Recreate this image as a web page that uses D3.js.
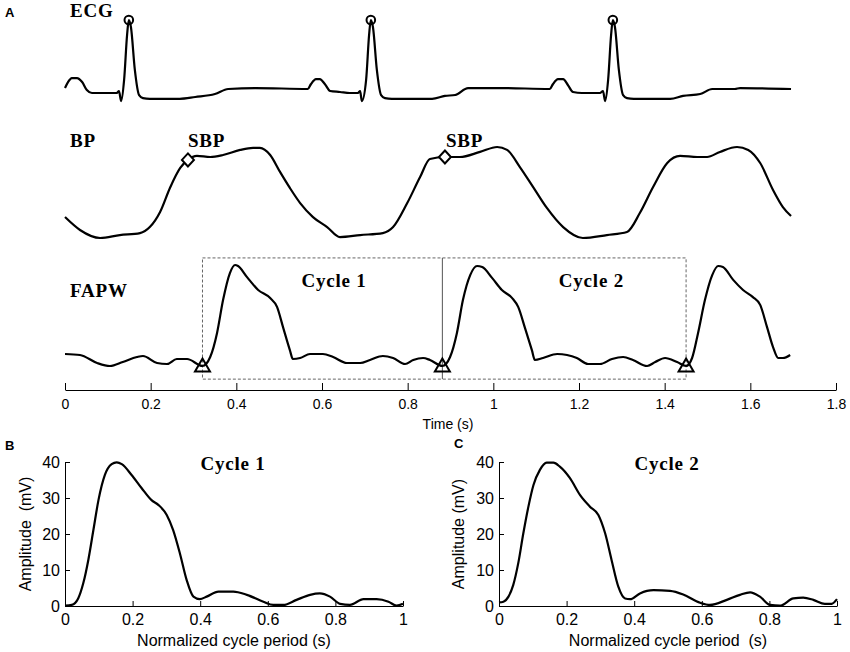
<!DOCTYPE html>
<html><head><meta charset="utf-8">
<script src="https://cdn.jsdelivr.net/npm/d3@7"></script>
<style>
html,body{margin:0;padding:0;background:#fff;}
svg{display:block;}
.serif{font-family:"Liberation Serif","Times New Roman",serif;font-weight:bold;}
.sans{font-family:"Liberation Sans",Arial,sans-serif;}
</style></head>
<body>
<svg id="chart" width="850" height="652"></svg>
<script>
// ---------------- DATA ----------------
// Top panel time ticks (s)
const timeTicks = [0,0.2,0.4,0.6,0.8,1,1.2,1.4,1.6,1.8];
// ECG (mV, relative to baseline)
const ecgT = [0,0.007,0.016,0.028,0.040,0.051,0.063,0.121,0.126,0.131,0.138,0.145,0.149,0.154,0.163,0.173,0.182,0.198,0.268,0.304,0.350,0.381,0.444,0.567,0.574,0.586,0.595,0.607,0.619,0.642,0.665,0.684,0.689,0.693,0.703,0.710,0.714,0.719,0.728,0.738,0.747,0.763,0.857,0.887,0.911,0.941,1.016,1.132,1.139,1.151,1.163,1.174,1.186,1.207,1.249,1.256,1.261,1.268,1.275,1.279,1.284,1.293,1.303,1.312,1.328,1.413,1.443,1.483,1.511,1.564,1.576,1.695];
const ecgV = [0.068,0.15,0.205,0.205,0.15,0.04,0,0,0.027,-0.11,0.18,0.8,1.0,0.9,0.32,-0.03,-0.07,-0.08,-0.08,-0.055,-0.014,0.055,0.068,0.055,0.12,0.19,0.19,0.12,0.027,0.014,0,0,0.027,-0.11,0.18,0.8,1.0,0.9,0.32,-0.03,-0.07,-0.08,-0.08,-0.04,-0.027,0.068,0.068,0.055,0.12,0.19,0.19,0.11,0.014,0,0,0.027,-0.11,0.18,0.8,1.0,0.9,0.32,-0.03,-0.07,-0.08,-0.08,-0.04,-0.014,0.055,0.055,0.068,0.055];
const rPeakT = [0.149,0.714,1.279];
const rPeakV = [1.0,1.0,1.0];
// Blood pressure (mmHg)
const bpT = [0,0.035,0.082,0.128,0.175,0.198,0.222,0.245,0.269,0.287,0.308,0.339,0.369,0.409,0.439,0.455,0.479,0.502,0.525,0.549,0.579,0.612,0.642,0.689,0.742,0.766,0.799,0.829,0.852,0.887,0.922,0.969,1.009,1.032,1.062,1.093,1.125,1.163,1.209,1.265,1.312,1.342,1.373,1.406,1.436,1.476,1.499,1.529,1.569,1.595,1.623,1.653,1.676,1.695];
const bpV = [81.5,74.4,70,71.6,72.7,76.0,84.3,97.5,108.5,112.9,115.1,114.5,115.6,118.4,119.5,119.5,115.6,106.3,97.5,89.2,81.5,76.0,70.5,71.6,72.7,76.0,89.2,103.5,113.4,114.5,114.5,117.3,120.0,118.4,109.0,98.0,86.5,76.0,70,71.6,73.3,83.7,98.0,111.2,115.1,114.5,114.5,117.3,120,118.4,111.2,96.4,87.0,82.1];
const sbpT = [0.287,0.887];
const sbpV = [112.9,114.5];
// FAPW (mV)
const fapwT = [0,0.035,0.075,0.105,0.135,0.168,0.182,0.215,0.238,0.261,0.285,0.321,0.339,0.355,0.369,0.385,0.397,0.404,0.425,0.451,0.479,0.495,0.509,0.525,0.532,0.549,0.572,0.602,0.626,0.658,0.689,0.712,0.742,0.766,0.794,0.813,0.836,0.852,0.881,0.899,0.915,0.929,0.946,0.962,0.974,0.997,1.020,1.044,1.058,1.074,1.090,1.097,1.116,1.149,1.172,1.195,1.221,1.249,1.277,1.303,1.326,1.359,1.378,1.401,1.429,1.450,1.464,1.478,1.494,1.511,1.525,1.536,1.560,1.583,1.606,1.623,1.639,1.653,1.665,1.676,1.693];
const fapwV = [4.75,4.36,1.19,0,1.58,3.56,3.96,1.19,0.79,2.77,2.77,0,3.56,13.1,26.1,36.8,40,39.6,35.2,30.1,26.9,23.4,15.4,6.3,2.77,3.17,4.75,4.75,3.56,1.19,1.19,2.38,3.96,3.17,0.79,2.38,3.17,2.38,0,3.56,13.1,26.1,36.0,39.6,39.2,34.9,30.1,26.9,23.4,15.0,6.3,2.38,3.17,4.75,4.36,3.17,0.79,0.79,2.77,3.56,2.38,0,1.58,3.17,1.58,0,3.17,13.1,26.1,36.0,39.6,39.2,34.1,30.1,27.3,24.2,15.4,7.5,3.17,3.17,4.36];
const footT = [0.321,0.881,1.450];
const footV = [0,0,0];
const cycleLabels = ["Cycle 1","Cycle 2"];
const cycleLabelT = [0.628,1.229];
const boxTopV = 42.8, boxBottomV = -5.2;
// Normalized cycles (panels B, C)
const c1N = [0,0.02,0.039,0.054,0.069,0.084,0.099,0.118,0.138,0.153,0.168,0.197,0.227,0.256,0.276,0.301,0.320,0.340,0.360,0.380,0.399,0.419,0.454,0.498,0.538,0.587,0.616,0.646,0.685,0.725,0.754,0.784,0.814,0.843,0.883,0.922,0.957,0.981,1.0];
const c1V = [0.1,0.3,2.1,6.3,12.8,21.1,29.4,36.4,39.4,39.9,39.4,36.4,32.7,29.4,28.1,25.3,21.1,14.6,7.2,2.6,1.9,2.6,4.0,4.0,3.1,1.2,0.3,0.3,1.7,3.1,3.5,2.6,0.6,0.3,1.9,1.9,1.2,0.1,0.6];
const c2N = [0,0.013,0.028,0.042,0.057,0.072,0.087,0.102,0.121,0.141,0.161,0.180,0.210,0.240,0.269,0.294,0.314,0.333,0.353,0.373,0.388,0.417,0.457,0.506,0.545,0.595,0.624,0.674,0.713,0.743,0.772,0.802,0.831,0.871,0.900,0.930,0.964,0.984,1.0];
const c2V = [1.0,1.2,2.6,5.8,11.9,20.2,27.6,33.6,37.8,39.8,39.8,38.7,35.5,30.8,27.6,25.3,20.2,12.8,5.4,2.1,1.9,3.5,4.4,4.2,3.2,0.9,0.3,1.7,3.1,3.8,2.6,0.3,0.1,2.1,2.3,1.7,0.6,0.6,1.9];
const normTicks = [0,0.2,0.4,0.6,0.8,1];
const ampTicks = [0,10,20,30,40];

// ---------------- DRAW ----------------
const svg = d3.select("#chart");
const zip = (a,b)=>a.map((v,i)=>[v,b[i]]);

// Panel A scales
const xT = d3.scaleLinear().domain([0,1.8]).range([65,836]);
const yEcg = d3.scaleLinear().domain([0,1]).range([93,20]);
const yBp = d3.scaleLinear().domain([70,120]).range([238,147]);
const yF = d3.scaleLinear().domain([0,40]).range([366,265]);

function trace(g, T, V, ys, curve){
  g.append("path").datum(zip(T,V))
   .attr("fill","none").attr("stroke","#000").attr("stroke-width",2.2)
   .attr("stroke-linejoin","round")
   .attr("d", d3.line().x(d=>xT(d[0])).y(d=>ys(d[1])).curve(curve||d3.curveMonotoneX));
}

const gA = svg.append("g");

// dashed cycle box
gA.append("rect")
  .attr("x", xT(footT[0])).attr("y", yF(boxTopV))
  .attr("width", xT(footT[2])-xT(footT[0])).attr("height", yF(boxBottomV)-yF(boxTopV))
  .attr("fill","none").attr("stroke","#666").attr("stroke-width",1).attr("stroke-dasharray","3,2");
gA.append("line")
  .attr("x1", xT(footT[1])).attr("x2", xT(footT[1]))
  .attr("y1", yF(boxTopV)).attr("y2", yF(boxBottomV))
  .attr("stroke","#555").attr("stroke-width",1);

trace(gA, ecgT, ecgV, yEcg);
trace(gA, bpT, bpV, yBp);
trace(gA, fapwT, fapwV, yF);

// R-peak circles
gA.selectAll("circle.r").data(zip(rPeakT,rPeakV)).enter().append("circle")
  .attr("cx",d=>xT(d[0])).attr("cy",d=>yEcg(d[1])).attr("r",4.3)
  .attr("fill","none").attr("stroke","#000").attr("stroke-width",2);
// SBP diamonds
gA.selectAll("path.sbp").data(zip(sbpT,sbpV)).enter().append("path")
  .attr("transform",d=>`translate(${xT(d[0])},${yBp(d[1])})`)
  .attr("d","M0,-6.5L6,0L0,6.5L-6,0Z")
  .attr("fill","#fff").attr("stroke","#000").attr("stroke-width",2);
// foot triangles
gA.selectAll("path.foot").data(zip(footT,footV)).enter().append("path")
  .attr("transform",d=>`translate(${xT(d[0])},${yF(d[1])})`)
  .attr("d","M0,-7.5L7.5,5.5L-7.5,5.5Z")
  .attr("fill","none").attr("stroke","#000").attr("stroke-width",2);

// labels
const serifTxt = (g,x,y,t)=>g.append("text").attr("class","serif").attr("x",x).attr("y",y)
  .attr("font-size",19).attr("letter-spacing",0.8).text(t);
serifTxt(gA,70,17,"ECG");
serifTxt(gA,70,147,"BP");
serifTxt(gA,188,147,"SBP");
serifTxt(gA,446,147,"SBP");
serifTxt(gA,70,297,"FAPW");
serifTxt(gA,xT(cycleLabelT[0]),287,cycleLabels[0]).attr("text-anchor","middle");
serifTxt(gA,xT(cycleLabelT[1]),287,cycleLabels[1]).attr("text-anchor","middle");

// time axis
const axT = gA.append("g").attr("transform","translate(0,390)")
  .call(d3.axisBottom(xT).tickValues(timeTicks).tickFormat(d=>String(d))
        .tickSizeInner(-7).tickSizeOuter(0).tickPadding(9));
axT.selectAll("text").attr("font-family","Liberation Sans, Arial, sans-serif").attr("font-size",14).attr("fill","#000");
axT.selectAll("line,path").attr("stroke","#000");
gA.append("text").attr("class","sans").attr("x",448).attr("y",429).attr("text-anchor","middle")
  .attr("font-size",14).text("Time (s)");

// panel letters
const letter = (x,y,t)=>svg.append("text").attr("class","sans").attr("x",x).attr("y",y)
  .attr("font-size",13).attr("font-weight","bold").text(t);
letter(5,17,"A");
letter(5,450,"B");
letter(454,448,"C");

// Panels B, C
function cyclePanel(x0,x1,N,V,title,xLabel,yLabel,yLabelX){
  const x = d3.scaleLinear().domain([0,1]).range([x0,x1]);
  const y = d3.scaleLinear().domain([0,40]).range([606,462]);
  const g = svg.append("g");
  const ax = g.append("g").attr("transform","translate(0,606)")
    .call(d3.axisBottom(x).tickValues(normTicks).tickFormat(d=>String(d))
          .tickSizeInner(-5).tickSizeOuter(0).tickPadding(8));
  const ay = g.append("g").attr("transform",`translate(${x0},0)`)
    .call(d3.axisLeft(y).tickValues(ampTicks).tickSizeInner(-5).tickSizeOuter(0).tickPadding(5));
  [ax,ay].forEach(a=>{
    a.selectAll("text").attr("font-family","Liberation Sans, Arial, sans-serif").attr("font-size",16).attr("fill","#000");
    a.selectAll("line,path").attr("stroke","#000");
  });
  g.append("path").datum(zip(N,V))
   .attr("fill","none").attr("stroke","#000").attr("stroke-width",2.2).attr("stroke-linejoin","round")
   .attr("d", d3.line().x(d=>x(d[0])).y(d=>y(d[1])).curve(d3.curveMonotoneX));
  g.append("text").attr("class","serif").attr("x",x(0.5)-1).attr("y",470).attr("text-anchor","middle")
   .attr("font-size",19).attr("letter-spacing",0.8).text(title);
  g.append("text").attr("class","sans").attr("x",(x0+x1)/2).attr("y",646).attr("text-anchor","middle")
   .attr("font-size",16).style("white-space","pre").text(xLabel);
  g.append("text").attr("class","sans").attr("transform",`translate(${yLabelX},534) rotate(-90)`)
   .attr("text-anchor","middle").attr("font-size",16).style("white-space","pre").text(yLabel);
}
cyclePanel(65,403,c1N,c1V,cycleLabels[0],"Normalized cycle period (s)","Amplitude  (mV)",31);
cyclePanel(499,837,c2N,c2V,cycleLabels[1],"Normalized cycle period  (s)","Amplitude (mV)",464);
</script>
</body></html>
